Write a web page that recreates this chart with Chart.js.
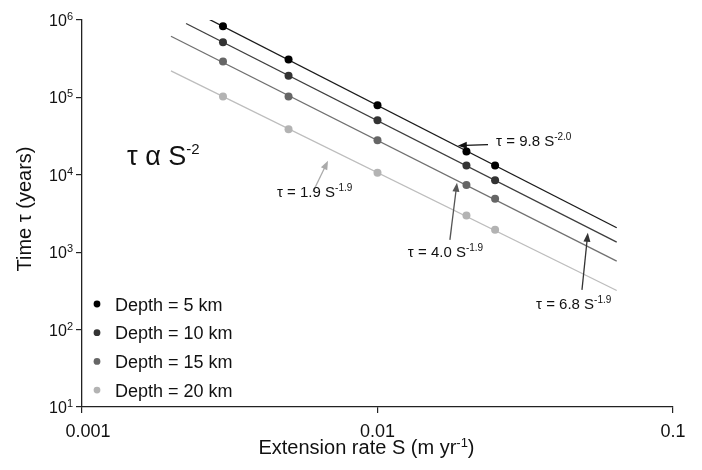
<!DOCTYPE html>
<html>
<head>
<meta charset="utf-8">
<script src="https://cdn.jsdelivr.net/npm/chart.js@4.4.1/dist/chart.umd.min.js"></script>
<style>
    html, body { margin: 0; padding: 0; background: #fff; }
    #grafico { display: block; }
</style>
</head>
<body>
<canvas id="grafico" width="702" height="470"></canvas>
<script>
const profundidades = ["Depth = 5 km", "Depth = 10 km", "Depth = 15 km", "Depth = 20 km"];
const taxas = [0.003, 0.005, 0.01, 0.02, 0.025];
const tempo5 = [8.3e5, 3.08e5, 7.9e4, 2.0e4, 1.32e4];
const tempo10 = [5.16e5, 1.91e5, 5.06e4, 1.32e4, 8.5e3];
const tempo15 = [2.9e5, 1.03e5, 2.8e4, 7.4e3, 4.9e3];
const tempo20 = [1.03e5, 3.87e4, 1.06e4, 2.98e3, 1.95e3];

// retas de ajuste (inicio e fim)
const ajusteS5 = [0.0025, 0.0645];
const ajusteT5 = [1.18e6, 2.07e3];
const ajusteS10 = [0.00225, 0.0645];
const ajusteT10 = [9.0e5, 1.35e3];
const ajusteS15 = [0.002, 0.0645];
const ajusteT15 = [6.17e5, 767];
const ajusteS20 = [0.002, 0.0645];
const ajusteT20 = [2.2e5, 320];

const xTicks = [0.001, 0.01, 0.1];
const xTickLabels = ["0.001", "0.01", "0.1"];
const yTicks = [1e1, 1e2, 1e3, 1e4, 1e5, 1e6];
const yTickExp = ["1", "2", "3", "4", "5", "6"];

const coresPontos = ['#000000', '#333333', '#666666', '#b3b3b3'];
const coresLinhas = ['#1a1a1a', '#3d3d3d', '#707070', '#bdbdbd'];
const FONTE = '"Liberation Sans", Arial, Helvetica, sans-serif';

function pares(xs, ys) {
    return xs.map((x, i) => ({ x: x, y: ys[i] }));
}

// texto base + expoente, devolve a largura total
function textoSup(ctx, base, sup, x, y, tam, tamSup, sobe, alinhar) {
    ctx.font = tam + 'px ' + FONTE;
    let wBase = ctx.measureText(base).width;
    ctx.font = tamSup + 'px ' + FONTE;
    let wSup = ctx.measureText(sup).width;
    let x0 = x;
    if (alinhar === 'right') x0 = x - wBase - wSup;
    if (alinhar === 'center') x0 = x - (wBase + wSup) / 2;
    ctx.textAlign = 'left';
    ctx.font = tam + 'px ' + FONTE;
    ctx.fillText(base, x0, y);
    ctx.font = tamSup + 'px ' + FONTE;
    ctx.fillText(sup, x0 + wBase, y - sobe);
    return x0 + wBase + wSup;
}

function seta(ctx, x1, y1, x2, y2, cor) {
    let ang = Math.atan2(y2 - y1, x2 - x1);
    let tam = 9, larg = 3.5;
    ctx.strokeStyle = cor;
    ctx.fillStyle = cor;
    ctx.lineWidth = 1.3;
    ctx.beginPath();
    ctx.moveTo(x1, y1);
    ctx.lineTo(x2 - Math.cos(ang) * tam * 0.8, y2 - Math.sin(ang) * tam * 0.8);
    ctx.stroke();
    ctx.beginPath();
    ctx.moveTo(x2, y2);
    ctx.lineTo(x2 - Math.cos(ang) * tam - Math.sin(ang) * larg, y2 - Math.sin(ang) * tam + Math.cos(ang) * larg);
    ctx.lineTo(x2 - Math.cos(ang) * tam + Math.sin(ang) * larg, y2 - Math.sin(ang) * tam - Math.cos(ang) * larg);
    ctx.closePath();
    ctx.fill();
}

// anotacoes em coordenadas de dados (S, tau)
const anotacoes = [
    { texto: "τ = 1.9 S", sup: "-1.9", pos: [0.00457, 5210], cauda: [0.00605, 6040], ponta: [0.0068, 15200], cor: '#aaaaaa' },
    { texto: "τ = 9.8 S", sup: "-2.0", pos: [0.0252, 23800], cauda: [0.02366, 24500], ponta: [0.0187, 23800], cor: '#111111' },
    { texto: "τ = 4.0 S", sup: "-1.9", pos: [0.01267, 872], cauda: [0.01758, 1446], ponta: [0.01858, 7900], cor: '#555555' },
    { texto: "τ = 6.8 S", sup: "-1.9", pos: [0.0344, 185], cauda: [0.0492, 326], ponta: [0.0515, 1782], cor: '#333333' }
];

const pluginTextos = {
    id: 'textos',
    afterDraw(chart) {
        const ctx = chart.ctx;
        const xs = chart.scales.x, ys = chart.scales.y;
        const area = chart.chartArea;
        ctx.save();
        ctx.fillStyle = '#111';
        ctx.textBaseline = 'alphabetic';

        // rotulos do eixo y
        yTicks.forEach((v, i) => {
            let py = ys.getPixelForValue(v);
            textoSup(ctx, "10", yTickExp[i], area.left - 9, py + 6, 16, 11, 6, 'right');
        });

        // rotulos do eixo x
        ctx.font = '18px ' + FONTE;
        ctx.textAlign = 'center';
        xTicks.forEach((v, i) => {
            ctx.fillText(xTickLabels[i], xs.getPixelForValue(v) + (i === 0 ? 6 : 0), area.bottom + 30);
        });

        // titulos
        ctx.font = '20px ' + FONTE;
        let wTitulo = ctx.measureText("Extension rate S (m yr)").width;
        ctx.font = '13px ' + FONTE;
        wTitulo += ctx.measureText("-1").width;
        let fim = textoSup(ctx, "Extension rate S (m yr", "-1", (area.left + area.right) / 2 - 11 - wTitulo / 2, area.bottom + 47, 20, 13, 7, 'left');
        ctx.font = '20px ' + FONTE;
        ctx.fillText(")", fim, area.bottom + 47);

        ctx.save();
        ctx.translate(31, 209);
        ctx.rotate(-Math.PI / 2);
        ctx.font = '20px ' + FONTE;
        ctx.textAlign = 'center';
        ctx.fillText("Time τ (years)", 0, 0);
        ctx.restore();

        // legenda
        profundidades.forEach((nome, i) => {
            let py = area.bottom - 103 + i * 28.7;
            ctx.fillStyle = coresPontos[i];
            ctx.beginPath();
            ctx.arc(area.left + 15, py, 3.4, 0, Math.PI * 2);
            ctx.fill();
            ctx.fillStyle = '#111';
            ctx.font = '18px ' + FONTE;
            ctx.textAlign = 'left';
            ctx.fillText(nome, area.left + 33, py + 6.5);
        });

        // tau alfa S^-2
        ctx.fillStyle = '#111';
        textoSup(ctx, "τ α S", "-2", xs.getPixelForValue(0.00142), ys.getPixelForValue(1.35e4), 27, 15, 11, 'left');

        // anotacoes com setas
        anotacoes.forEach(a => {
            seta(ctx, xs.getPixelForValue(a.cauda[0]), ys.getPixelForValue(a.cauda[1]),
                xs.getPixelForValue(a.ponta[0]), ys.getPixelForValue(a.ponta[1]), a.cor);
            ctx.fillStyle = '#111';
            textoSup(ctx, a.texto, a.sup, xs.getPixelForValue(a.pos[0]), ys.getPixelForValue(a.pos[1]), 15, 10, 6, 'left');
        });
        ctx.restore();
    }
};

function eixo(min, max, ticks, afterFit) {
    return {
        type: 'logarithmic',
        min: min,
        max: max,
        afterBuildTicks: s => { s.ticks = ticks.map(v => ({ value: v })); },
        afterFit: afterFit,
        ticks: { display: false },
        grid: {
            drawOnChartArea: false,
            drawTicks: true,
            tickLength: 6,
            color: '#222',
            lineWidth: 1.2
        },
        border: { display: true, color: '#222', width: 1.3 }
    };
}

function renderizaGrafico() {
    const series = [tempo5, tempo10, tempo15, tempo20];
    const ajustes = [[ajusteS5, ajusteT5], [ajusteS10, ajusteT10], [ajusteS15, ajusteT15], [ajusteS20, ajusteT20]];

    const datasets = [];
    series.forEach((t, i) => {
        datasets.push({
            label: profundidades[i],
            data: pares(taxas, t),
            showLine: false,
            pointRadius: 4,
            pointBackgroundColor: coresPontos[i],
            pointBorderColor: coresPontos[i],
            pointBorderWidth: 0,
            order: 1
        });
    });
    ajustes.forEach((a, i) => {
        datasets.push({
            label: 'ajuste ' + profundidades[i],
            data: pares(a[0], a[1]),
            showLine: true,
            borderColor: coresLinhas[i],
            borderWidth: 1.3,
            pointRadius: 0,
            order: 2
        });
    });

    const config = {
        type: 'scatter',
        data: { datasets: datasets },
        options: {
            responsive: false,
            animation: false,
            devicePixelRatio: 1,
            layout: { padding: { top: 20, right: 29, left: 0, bottom: 0 } },
            plugins: {
                legend: { display: false },
                tooltip: { enabled: false }
            },
            scales: {
                x: eixo(0.001, 0.1, xTicks, s => { s.height = 63; }),
                y: eixo(10, 1e6, yTicks, s => { s.width = 82; })
            }
        },
        plugins: [pluginTextos]
    };

    new Chart(document.getElementById("grafico"), config);
}

document.addEventListener("DOMContentLoaded", () => {
    renderizaGrafico();
});
</script>
</body>
</html>
